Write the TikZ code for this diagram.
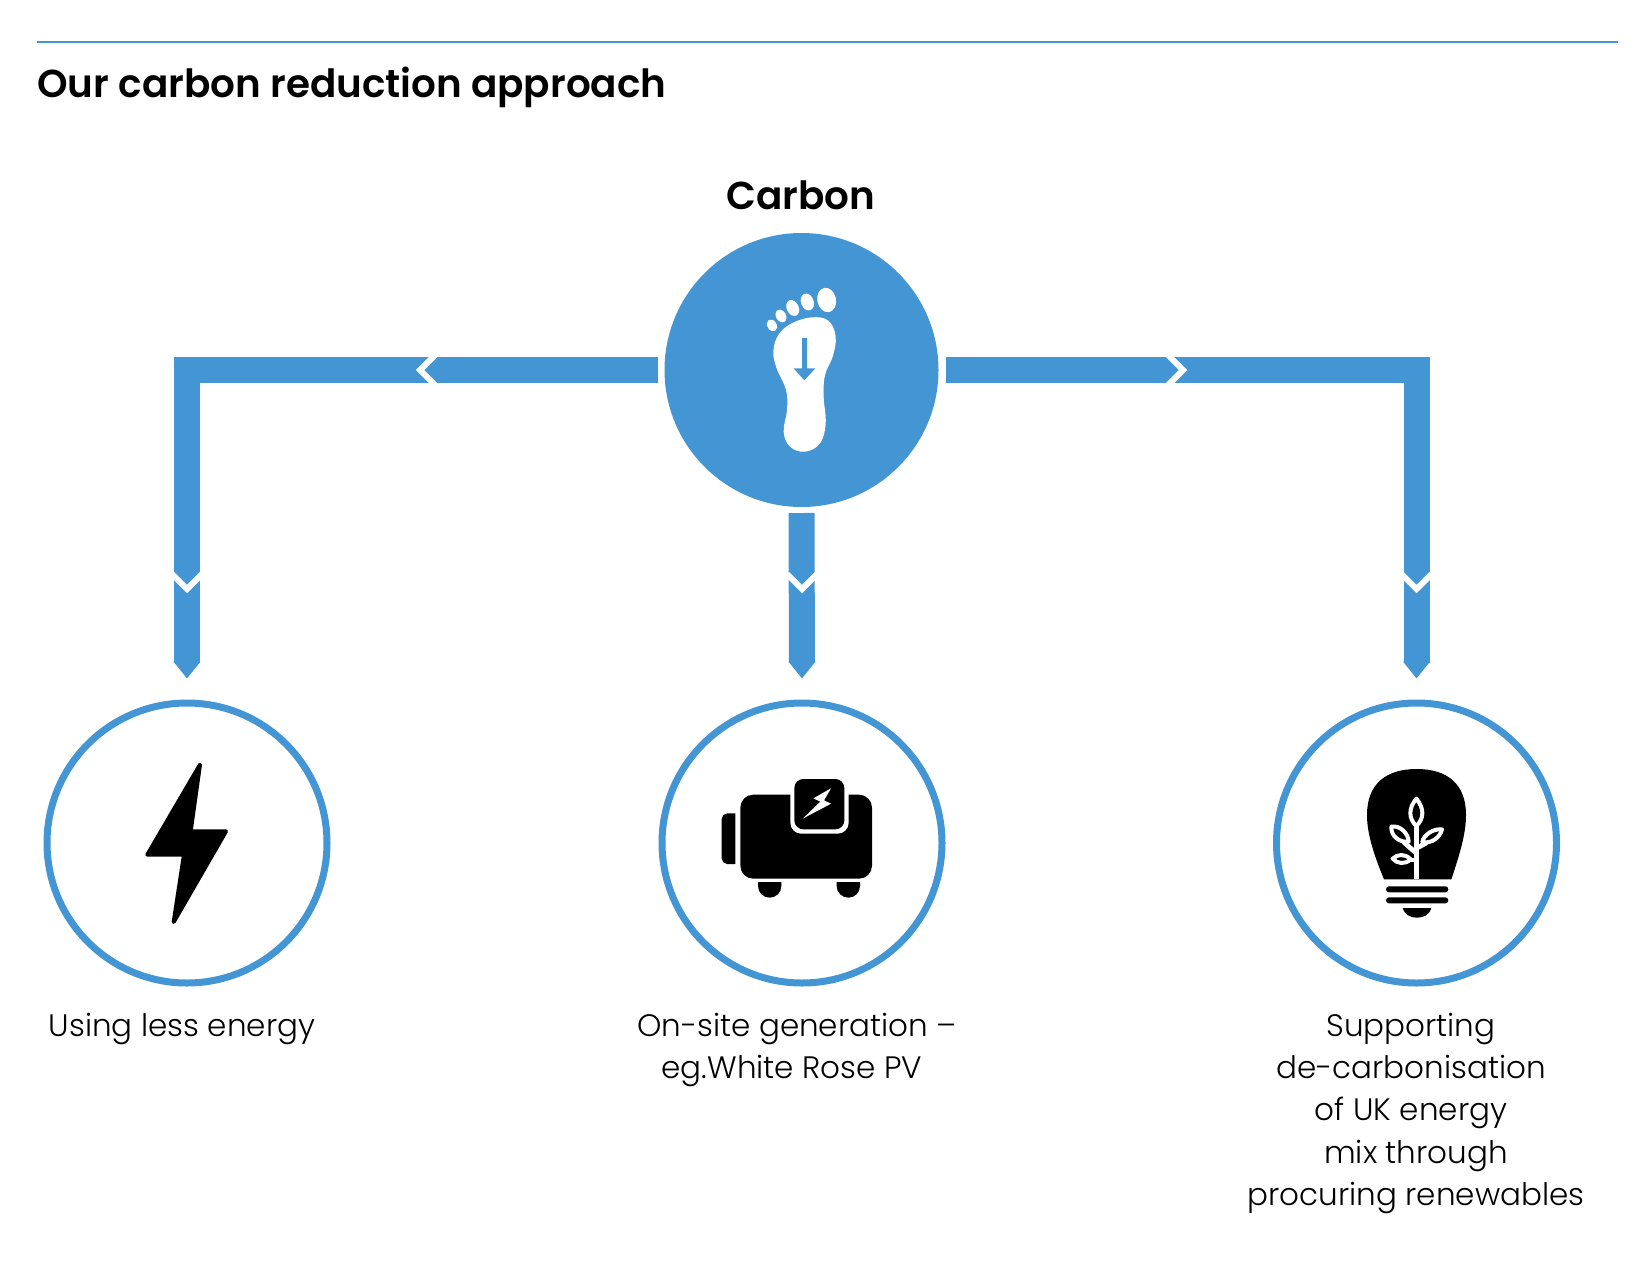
\documentclass[tikz,border=0pt]{standalone}
\usepackage{fontspec}
\usetikzlibrary{arrows.meta}
\setmainfont{Poppins Light}
\newfontfamily\headf{Poppins SemiBold}
\definecolor{cblue}{HTML}{4495D4}
\tikzset{
  conn/.style={cblue,line width=13pt,line join=miter,-{Triangle[width=13pt,length=8.5pt,sep=0pt]}},
  chev/.style={white,line width=3pt,line join=miter},
  ring/.style={circle,draw=cblue,line width=3.5pt,minimum size=140pt,inner sep=0pt,fill=white},
  hubc/.style={circle,fill=cblue,minimum size=137pt,inner sep=0pt,outer sep=0pt},
  head/.style={font=\headf\fontsize{19.45}{24}\selectfont,inner sep=0pt,text=black},
  lab/.style={font=\fontsize{15.5}{21.2}\selectfont,inner sep=0pt,align=center,text=black,anchor=base}
}
\begin{document}
\begin{tikzpicture}[x=0.5pt,y=-0.5pt]
\useasboundingbox (0,0) rectangle (1650,1264);
\draw[cblue,line width=1pt] (37,42) coordinate (ruleL) -- (1618,42) coordinate (ruleR);
\node[head,anchor=base west] (title) at (37,97) {Our carbon reduction approach};
\node[head,anchor=base] (carbon) at (801,209) {Carbon};
\node[hubc] (hub) at (801.5,370) {};
\node[ring] (c1) at (187,843) {};
\node[ring] (c2) at (802,843) {};
\node[ring] (c3) at (1416.5,843) {};
% connectors
\draw[conn] ([xshift=-3.5pt]hub.west) -| ([yshift=10.5pt]c1.north);
\draw[conn] ([xshift=3.5pt]hub.east) -| ([yshift=10.5pt]c3.north);
\draw[conn] ([yshift=-3pt]hub.south) -- ([yshift=10.5pt]c2.north);
% chevrons on the connectors
\draw[chev] (435,355) -- (420,370) -- (435,385);
\draw[chev] (1168,355) -- (1183,370) -- (1168,385);
\foreach \cx in {187,802,1416.5}{
  \draw[chev] (\cx-15,574) -- (\cx,589) -- (\cx+15,574);
}
% foot
\begin{scope}[shift={(640,160)},x=0.16667pt,y=-0.16667pt]
  \fill[white] plot[smooth cycle,tension=0.65] coordinates {(515,472)(565,482)(587,530)(578,590)(555,645)(551,710)(557,790)(540,850)(495,875)(450,860)(431,815)(441,750)(438,690)(410,625)(400,575)(415,525)(455,490)};
  \fill[white,rotate around={12:(560,420)}] (560,420) ellipse [x radius=28,y radius=37];
  \fill[white,rotate around={20:(502,426)}] (502,426) ellipse [x radius=19,y radius=26];
  \fill[white,rotate around={25:(458,444)}] (458,444) ellipse [x radius=18,y radius=25];
  \fill[white,rotate around={30:(423,468)}] (423,468) ellipse [x radius=15,y radius=20];
  \fill[white,rotate around={30:(396,496)}] (396,496) ellipse [x radius=14,y radius=19];
  \fill[cblue] (486,534) -- (501,534) -- (501,625) -- (526,625) -- (493,661) -- (461,625) -- (486,625) -- cycle;
\end{scope}
% lightning bolt
\begin{scope}[shift={(30,690)},x=0.16667pt,y=-0.16667pt]
  \filldraw[black,line width=2pt,line join=round] (510,224) -- (482,424) -- (588,424) -- (431,696) -- (462,494) -- (352,494) -- cycle;
\end{scope}
% generator
\begin{scope}[shift={(640,690)},x=0.16667pt,y=-0.16667pt]
  \fill[black,rounded corners=6.5pt] (301,314) rectangle (696,566);
  \fill[black] (286,370) [rounded corners=2.8pt] -- (245,370) -- (245,522) [sharp corners] -- (286,522) -- cycle;
  \fill[black] (354,576) -- (424,576) -- (424,588) arc[start angle=0,end angle=180,radius=35] -- cycle;
  \fill[black] (590,576) -- (660,576) -- (660,588) arc[start angle=0,end angle=180,radius=35] -- cycle;
  \fill[white,rounded corners=5.5pt] (451,250) rectangle (626,431);
  \fill[black,rounded corners=4.5pt] (463,267) rectangle (613,418);
  \fill[white] (573,295) -- (520,325) -- (541,335) -- (488,386) -- (573,341) -- (552,331) -- cycle;
\end{scope}
% bulb
\begin{scope}[shift={(1260,690)},x=0.16667pt,y=-0.16667pt]
  \fill[black] (372,568) .. controls (340,490) and (321,430) .. (321,375) .. controls (321,280) and (380,237) .. (470,237) .. controls (560,237) and (618,280) .. (618,375) .. controls (618,430) and (600,490) .. (574,568) -- cycle;
  \draw[white,line width=2.6pt] (469,568) -- (469,405);
  \draw[white,line width=2.4pt] (469,490) -- (430,455);
  \draw[white,line width=2.4pt] (469,475) -- (500,458);
  \draw[white,line width=2.4pt] (469,510) -- (440,510);
  \draw[white,line width=2pt,fill=black,line join=round] (469,326) .. controls (445,355) and (445,385) .. (469,408) .. controls (493,385) and (493,355) .. (469,326) -- cycle;
  \draw[white,line width=2pt,fill=black,line join=round] (394,410) .. controls (392,440) and (420,458) .. (446,455) .. controls (445,430) and (420,405) .. (394,410) -- cycle;
  \draw[white,line width=2pt,fill=black,line join=round] (546,418) .. controls (520,415) and (490,435) .. (487,456) .. controls (515,462) and (540,442) .. (546,418) -- cycle;
  \draw[white,line width=2pt,fill=black,line join=round] (398,506) .. controls (412,492) and (435,490) .. (452,508) .. controls (435,524) and (412,522) .. (398,506) -- cycle;
  \fill[black,rounded corners=1.5pt] (378,589) rectangle (565,607);
  \fill[black,rounded corners=1.5pt] (378,622) rectangle (565,640);
  \fill[black] (428,654) -- (514,654) .. controls (508,675) and (490,683) .. (471,683) .. controls (452,683) and (434,675) .. (428,654) -- cycle;
\end{scope}
% labels
\node[lab] (l1) at (182,1036) {Using less energy};
\node[lab] (l2) at (797,1078.4) {On-site generation --\\[0pt]\mbox{eg.White Rose PV\kern5pt}};
\node[lab] (l3) at (1416,1205.6) {\mbox{Supporting\kern5pt}\\\mbox{de-carbonisation\kern5pt}\\\mbox{of UK energy\kern5pt}\\mix through\\procuring renewables};
\end{tikzpicture}
\end{document}
